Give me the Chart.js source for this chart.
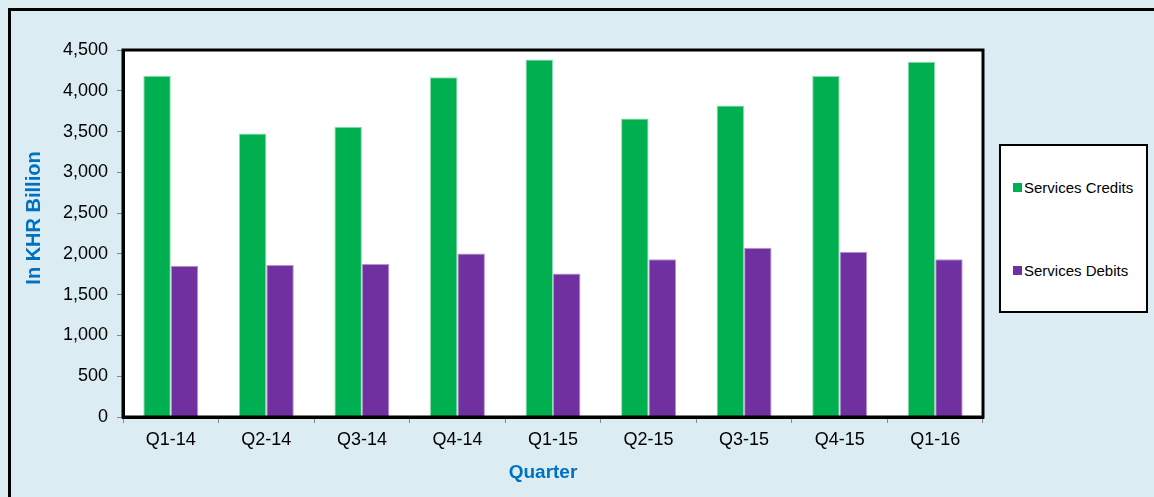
<!DOCTYPE html>
<html>
<head>
<meta charset="utf-8">
<script src="https://cdn.jsdelivr.net/npm/chart.js@4/dist/chart.umd.min.js"></script>
<style>
  html, body { margin: 0; padding: 0; background: #ffffff; }
  #wrap { position: relative; width: 1154px; height: 497px; background: #dbedf3; overflow: hidden; }
  #frame { position: absolute; left: 8px; top: 8px; width: 1200px; height: 600px;
           border-left: 3px solid #000; border-top: 3px solid #000; }
  canvas { position: absolute; left: 0; top: 0; }
  #legend { position: absolute; left: 999px; top: 144px; width: 145px; height: 165px;
            background: #fff; border: 2px solid #000; font-family: "Liberation Sans", Arial, sans-serif;
            font-size: 15px; color: #000; }
  .item { position: absolute; left: 12px; white-space: nowrap; }
  .box { display: inline-block; width: 9px; height: 9px; margin-right: 2px; vertical-align: 1px; }
</style>
</head>
<body>
<div id="wrap">
  <div id="frame"></div>
  <canvas id="c" width="1154" height="497"></canvas>
  <div id="legend"></div>
</div>
<script>
// quarters on the x axis
const quarters = ['Q1-14', 'Q2-14', 'Q3-14', 'Q4-14', 'Q1-15', 'Q2-15', 'Q3-15', 'Q4-15', 'Q1-16'];
// KHR billion
const credits = [4185, 3475, 3560, 4165, 4385, 3660, 3820, 4180, 4355];
const debits = [1855, 1865, 1875, 2005, 1760, 1935, 2075, 2025, 1935];
const seriesNames = ['Services Credits', 'Services Debits'];
const seriesColors = ['#00b050', '#7030a0'];
const xTitle = 'Quarter';
const yTitle = 'In KHR Billion';

const FONT = '"Liberation Sans", Arial, sans-serif';

// white plot area + black frame on top/right, axis titles
const plotFrame = {
  id: 'plotFrame',
  beforeDraw(chart) {
    const a = chart.chartArea, ctx = chart.ctx;
    ctx.save();
    ctx.fillStyle = '#fff';
    ctx.fillRect(a.left, a.top, a.right - a.left, a.bottom - a.top);
    ctx.restore();
  },
  afterDraw(chart) {
    const a = chart.chartArea, ctx = chart.ctx;
    ctx.save();
    ctx.strokeStyle = '#000';
    ctx.lineWidth = 3;
    ctx.strokeRect(a.left, a.top, a.right - a.left, a.bottom - a.top);

    ctx.fillStyle = '#0070c0';
    ctx.textAlign = 'center';
    ctx.textBaseline = 'middle';
    ctx.font = 'bold 19px ' + FONT;
    ctx.fillText(xTitle, 543, 473);
    ctx.translate(34, 218);
    ctx.rotate(-Math.PI / 2);
    ctx.font = 'bold 20px ' + FONT;
    ctx.fillText(yTitle, 0, 0);
    ctx.restore();
  }
};

const chart = new Chart(document.getElementById('c'), {
  type: 'bar',
  data: {
    labels: quarters,
    datasets: [
      { label: seriesNames[0], data: credits, backgroundColor: seriesColors[0],
        borderColor: '#8fdcae', borderWidth: 1 },
      { label: seriesNames[1], data: debits, backgroundColor: seriesColors[1],
        borderColor: '#b596d0', borderWidth: 1 }
    ]
  },
  options: {
    responsive: false,
    animation: false,
    devicePixelRatio: 1,
    layout: { padding: { left: 0, right: 171, top: 50, bottom: 0 } },
    datasets: { bar: { barPercentage: 1, categoryPercentage: 0.575 } },
    plugins: { legend: { display: false }, tooltip: { enabled: false } },
    scales: {
      x: {
        afterFit(s) { s.height = 80; },
        grid: { drawOnChartArea: false, drawTicks: true, tickLength: 6, color: '#888', offset: true },
        border: { color: '#000', width: 3 },
        ticks: { color: '#000', font: { family: FONT, size: 18 }, padding: 6 }
      },
      y: {
        min: 0, max: 4500,
        afterFit(s) { s.width = 123; },
        grid: { drawOnChartArea: false, drawTicks: true, tickLength: 6, color: '#888' },
        border: { color: '#000', width: 3 },
        ticks: { stepSize: 500, color: '#000', font: { family: FONT, size: 18 }, padding: 9,
                 callback: v => v.toLocaleString('en-US') }
      }
    }
  },
  plugins: [plotFrame]
});

// legend box built from the chart's datasets
const legend = document.getElementById('legend');
chart.data.datasets.forEach((ds, i) => {
  const el = document.createElement('div');
  el.className = 'item';
  el.style.top = (i === 0 ? 33 : 116) + 'px';
  el.innerHTML = '<span class="box" style="background:' + ds.backgroundColor + '"></span>' + ds.label;
  legend.appendChild(el);
});
</script>
</body>
</html>
